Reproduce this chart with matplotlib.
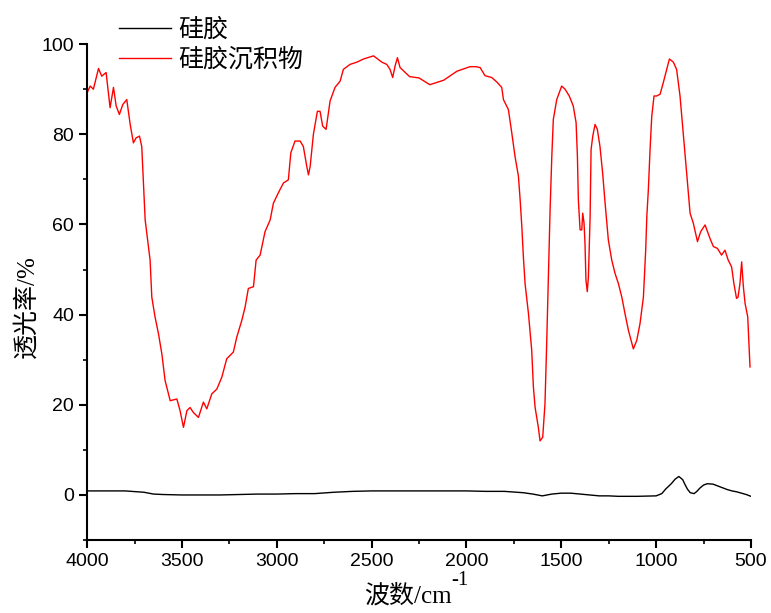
import matplotlib
matplotlib.use("Agg")
import matplotlib.pyplot as plt
from matplotlib.ticker import MultipleLocator

plt.rcParams['font.family'] = ['Liberation Sans', 'Noto Sans CJK SC']

# 硅胶沉积物 (red)
wn_dep = [4000, 3984, 3967, 3940, 3923, 3900, 3879, 3861, 3847, 3830, 3812, 3791, 3773, 3756,
          3742, 3724, 3712, 3703, 3694, 3677, 3668, 3659, 3642, 3624, 3606, 3589, 3562, 3527,
          3510, 3492, 3474, 3457, 3440, 3413, 3387, 3369, 3343, 3316, 3290, 3264, 3229, 3211,
          3184, 3167, 3150, 3123, 3109, 3088, 3071, 3062, 3035, 3018, 2992, 2965, 2939, 2926,
          2904, 2877, 2860, 2842, 2833, 2824, 2807, 2786, 2772, 2758, 2740, 2719, 2693, 2666,
          2649, 2614, 2578, 2543, 2490, 2446, 2420, 2403, 2389, 2376, 2364, 2350, 2300, 2250,
          2193, 2120, 2050, 1981, 1950, 1928, 1902, 1867, 1840, 1814, 1805, 1779, 1761, 1744,
          1726, 1717, 1708, 1700, 1691, 1673, 1656, 1647, 1638, 1621, 1612, 1598, 1586, 1577,
          1568, 1559, 1550, 1542, 1524, 1498, 1480, 1458, 1437, 1422, 1415, 1410, 1401, 1392,
          1387, 1380, 1375, 1370, 1363, 1357, 1348, 1343, 1334, 1322, 1310, 1296, 1282, 1269,
          1252, 1234, 1217, 1199, 1181, 1164, 1146, 1128, 1120, 1102, 1085, 1067, 1055, 1049,
          1041, 1032, 1023, 1011, 997, 979, 962, 944, 930, 909, 892, 874, 857, 839, 821, 804,
          782, 765, 742, 716, 698, 677, 655, 637, 620, 602, 590, 576, 568, 558, 549, 540, 531,
          517, 505]
t_dep = [89.2, 90.7, 90.0, 94.6, 92.9, 93.7, 85.9, 90.4, 86.3, 84.4, 86.6, 87.7, 82.2, 78.1,
         79.2, 79.6, 77.3, 69.2, 61.0, 55.1, 52.1, 43.9, 39.5, 35.8, 31.3, 25.4, 20.9, 21.3,
         18.7, 15.0, 18.7, 19.4, 18.3, 17.2, 20.6, 19.1, 22.4, 23.5, 26.1, 30.2, 31.7, 35.0,
         38.8, 41.7, 45.8, 46.2, 52.1, 53.2, 56.6, 58.4, 61.0, 64.7, 67.0, 69.2, 69.9, 75.9,
         78.5, 78.5, 77.3, 72.9, 71.0, 72.9, 80.0, 85.1, 85.1, 81.8, 81.1, 87.4, 90.4, 91.8,
         94.4, 95.5, 96.0, 96.7, 97.4, 96.0, 95.5, 94.4, 92.6, 95.2, 97.0, 94.8, 92.8, 92.5,
         91.0, 92.0, 94.0, 95.0, 95.0, 94.8, 93.0, 92.6, 91.6, 90.4, 87.7, 85.5, 80.3, 75.1,
         70.7, 65.5, 59.5, 52.9, 46.9, 40.2, 32.1, 23.9, 19.4, 15.0, 12.0, 12.8, 20.2, 33.6,
         48.4, 63.3, 75.1, 83.3, 87.7, 90.7, 90.0, 88.5, 86.3, 82.6, 75.1, 65.5, 58.8, 58.8,
         62.5, 60.3, 55.8, 47.7, 45.1, 48.4, 61.8, 76.6, 79.6, 82.2, 81.1, 77.3, 71.4, 64.7,
         56.6, 52.1, 49.2, 46.9, 43.9, 40.2, 36.5, 33.6, 32.4, 34.3, 38.0, 43.9, 54.3, 61.8,
         67.7, 76.6, 84.0, 88.5, 88.5, 88.9, 91.5, 94.4, 96.7, 96.0, 94.4, 88.5, 80.3, 71.4,
         62.5, 60.3, 56.2, 58.4, 59.9, 56.9, 55.1, 54.7, 53.2, 54.3, 52.1, 50.6, 46.9, 43.6,
         43.9, 46.9, 51.7, 46.2, 42.5, 39.5, 28.4]

# 硅胶 (black)
wn_gel = [4000, 3900, 3800, 3700, 3650, 3600, 3500, 3400, 3300, 3200, 3100, 3000, 2900, 2800,
          2700, 2600, 2500, 2456, 2300, 2150, 2000, 1900, 1800, 1700, 1650, 1600, 1550, 1500,
          1450, 1400, 1350, 1300, 1250, 1200, 1100, 1000, 970, 950, 920, 900, 880, 860, 850,
          835, 820, 800, 785, 770, 750, 730, 700, 675, 650, 625, 600, 575, 550, 525, 500]
t_gel = [0.9, 0.9, 0.9, 0.6, 0.2, 0.1, 0.0, 0.0, 0.0, 0.1, 0.2, 0.2, 0.3, 0.3,
         0.6, 0.8, 0.9, 0.9, 0.9, 0.9, 0.9, 0.8, 0.8, 0.5, 0.2, -0.2, 0.2, 0.4,
         0.4, 0.2, 0.0, -0.2, -0.2, -0.3, -0.3, -0.2, 0.3, 1.3, 2.5, 3.5, 4.1, 3.4, 2.5,
         1.3, 0.5, 0.3, 0.8, 1.5, 2.2, 2.5, 2.4, 2.0, 1.6, 1.2, 0.9, 0.7, 0.4, 0.1, -0.3]

fig = plt.figure(figsize=(7.71, 6.13), dpi=100)
ax = fig.add_axes([0.113, 0.119, 0.861, 0.809])

ax.plot(wn_gel, t_gel, color='black', lw=1.0, label='硅胶')
ax.plot(wn_dep, t_dep, color='red', lw=1.0, label='硅胶沉积物')

ax.set_xlim(4000, 500)
ax.set_ylim(-10, 100)
ax.xaxis.set_major_locator(MultipleLocator(500))
ax.xaxis.set_minor_locator(MultipleLocator(250))
ax.yaxis.set_major_locator(MultipleLocator(20))
ax.yaxis.set_minor_locator(MultipleLocator(10))

for s in ['top', 'right']:
    ax.spines[s].set_visible(False)
for s in ['left', 'bottom']:
    ax.spines[s].set_linewidth(1.5)

ax.tick_params(axis='both', which='major', direction='out', length=6, width=1.5,
               labelsize=14)
ax.tick_params(axis='both', which='minor', direction='out', length=3, width=1.2)

serif_cjk = ['Liberation Serif', 'Noto Sans CJK SC']
xl = ax.set_xlabel('波数/cm', fontsize=18, family=serif_cjk, labelpad=10)
ax.xaxis.label.set_x(0.483)
ax.annotate('-1', xy=(1, 1), xycoords=xl, xytext=(0, -4), textcoords='offset points',
            fontsize=15, family=serif_cjk, ha='left', va='bottom')
ax.set_ylabel('透光率/%', fontsize=18, family=serif_cjk, labelpad=2)
ax.yaxis.label.set_y(0.47)

fig.legend(loc='upper left', bbox_to_anchor=(0.128, 1.005), frameon=False,
           prop={'family': ['Noto Sans CJK SC'], 'size': 18},
           handlelength=2.1, handletextpad=0.3, labelspacing=0.15, borderpad=0.3)

fig.savefig('out.png', dpi=100)
